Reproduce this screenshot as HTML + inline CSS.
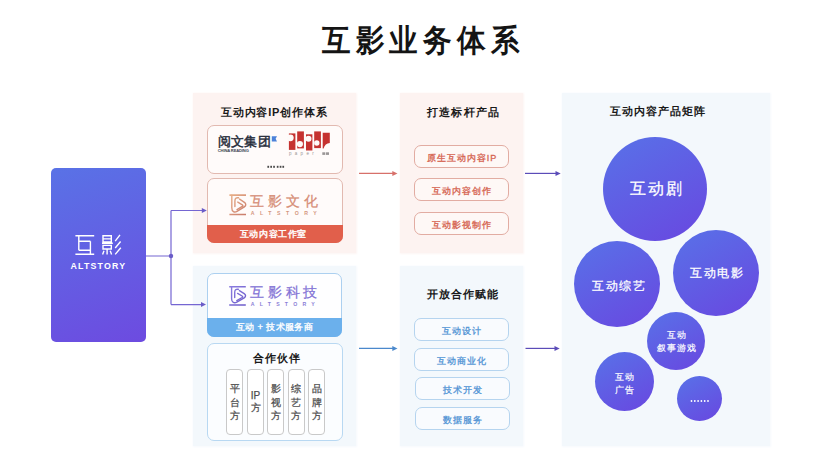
<!DOCTYPE html>
<html><head><meta charset="utf-8">
<style>
*{margin:0;padding:0;box-sizing:border-box}
html,body{width:830px;height:476px;overflow:hidden;background:#fff}
body{position:relative;font-family:"Liberation Sans",sans-serif;color:#222}
.a{position:absolute}
.t{white-space:nowrap;line-height:1}
#title{left:321.5px;top:25px;font-size:31px;font-weight:700;letter-spacing:5.65px;color:#141414;transform:scaleX(0.92);transform-origin:0 0}
#lbox{left:51.4px;top:168.3px;width:94.4px;height:174px;border-radius:5px;background:linear-gradient(160deg,#5972e6 0%,#6d4be0 100%)}
.pink{background:#fdf3f1;box-shadow:0 0 2px 0.5px #fdf5f3}
.blue{background:#f3f8fc;box-shadow:0 0 2px 0.5px #f6f9fd}
.ptitle{font-size:11px;font-weight:700;color:#1a1a1a;letter-spacing:1.2px}
.card{border-radius:7px;overflow:hidden}
.pill{border-radius:7px;text-align:center;font-size:9px;font-weight:400;-webkit-text-stroke:0.3px currentColor;line-height:25px;letter-spacing:1px;padding-left:1px}
.rp{border:1px solid #e2aca2;background:#fef8f6;color:#d5624f}
.bp{border:1px solid #b5d4ef;background:#f9fbfe;color:#5294d5}
.circ{border-radius:50%;background:linear-gradient(150deg,#5872e8 0%,#6947e0 100%);color:#fff;text-align:center;display:flex;align-items:center;justify-content:center;font-weight:400;-webkit-text-stroke:0.25px #fff}
.vp{border:1px solid #c9c9c9;border-radius:4px;background:#fff;width:17px;height:66px;top:369px;font-size:10px;font-weight:400;color:#4d4d4d;-webkit-text-stroke:0.25px #4d4d4d;text-align:center;line-height:13.5px}
</style></head><body>
<div id="title" class="a t">互影业务体系</div>

<div id="lbox" class="a"></div>

<div class="a pink" style="left:193px;top:93px;width:163px;height:160px"></div>
<div class="a blue" style="left:193px;top:266px;width:163px;height:180px"></div>
<div class="a pink" style="left:400px;top:93px;width:123px;height:160px"></div>
<div class="a blue" style="left:400px;top:266px;width:123px;height:180px"></div>
<div class="a blue" style="left:562px;top:93px;width:207.5px;height:353px"></div>

<div class="a t ptitle" style="left:221px;top:106.5px;letter-spacing:0.8px">互动内容IP创作体系</div>
<div class="a t ptitle" style="left:427px;top:106.5px">打造标杆产品</div>
<div class="a t ptitle" style="left:427px;top:289px;letter-spacing:1px">开放合作赋能</div>
<div class="a t ptitle" style="left:610px;top:106px;letter-spacing:1px">互动内容产品矩阵</div>

<!-- cards -->
<div class="a card" style="left:207px;top:125.3px;width:135.5px;height:49.2px;border:1px solid #e2b9b0;background:#fffbfa"></div>
<div class="a card" style="left:207px;top:178px;width:136px;height:65px;border:1px solid #e2b9b0;background:#fffbfa"></div>
<div class="a" style="left:207px;top:225.3px;width:136px;height:17.7px;background:#e15f4b;border-radius:0 0 7px 7px"></div>
<div class="a card" style="left:207px;top:272.5px;width:135px;height:64px;border:1px solid #acd0f0;background:#fefeff"></div>
<div class="a" style="left:207px;top:318px;width:135px;height:18.5px;background:#6bb0ec;border-radius:0 0 7px 7px"></div>
<div class="a card" style="left:207px;top:343px;width:136px;height:98px;border:1px solid #b8d8f2;background:#fbfdff"></div>

<!-- middle pills -->
<div class="a pill rp" style="left:414px;top:144.5px;width:95px;height:23px;line-height:24px">原生互动内容IP</div>
<div class="a pill rp" style="left:414px;top:178px;width:95px;height:23px">互动内容创作</div>
<div class="a pill rp" style="left:414px;top:212px;width:95px;height:23px">互动影视制作</div>
<div class="a pill bp" style="left:414px;top:318px;width:95px;height:23px">互动设计</div>
<div class="a pill bp" style="left:414px;top:348px;width:95px;height:23px">互动商业化</div>
<div class="a pill bp" style="left:415px;top:377px;width:95px;height:23px">技术开发</div>
<div class="a pill bp" style="left:415px;top:407px;width:95px;height:23px">数据服务</div>

<!-- circles -->
<div class="a circ" style="left:603px;top:137px;width:104px;height:104px;font-size:15.5px"><span style="position:relative;top:0.6px;left:2.2px;letter-spacing:2.2px">互动剧</span></div>
<div class="a circ" style="left:574px;top:241px;width:86px;height:86px;font-size:12px"><span style="position:relative;top:2px;left:2.3px;letter-spacing:1.7px">互动综艺</span></div>
<div class="a circ" style="left:673px;top:230px;width:86px;height:86px;font-size:12px"><span style="position:relative;top:0px;left:1.3px;letter-spacing:1.7px">互动电影</span></div>
<div class="a circ" style="left:647px;top:312px;width:58px;height:58px;font-size:9px;line-height:13.5px;-webkit-text-stroke:0.2px #fff"><span style="position:relative;top:1.3px;left:0.5px;letter-spacing:1px">互动<br>叙事游戏</span></div>
<div class="a circ" style="left:595px;top:352px;width:59px;height:59px;font-size:9px;line-height:13px;-webkit-text-stroke:0.2px #fff"><span style="position:relative;top:2px;left:0.5px;letter-spacing:1px">互动<br>广告</span></div>
<div class="a circ" style="left:677px;top:376px;width:45px;height:45px"><svg width="20" height="4" style="position:relative;top:2px;left:0.5px"><g fill="#fff"><circle cx="1.5" cy="2" r="0.9"/><circle cx="4.8" cy="2" r="0.9"/><circle cx="8.1" cy="2" r="0.9"/><circle cx="11.4" cy="2" r="0.9"/><circle cx="14.7" cy="2" r="0.9"/><circle cx="18" cy="2" r="0.9"/></g></svg></div>

<!-- left box text -->
<svg class="a" style="left:0;top:0" width="830" height="476" viewBox="0 0 830 476"><g fill="none" stroke="#fff" stroke-width="1.4" stroke-linecap="butt">
<path d="M75.4 235.8 H94.2 M75.4 254.3 H94.2 M78.8 235.8 V250.3 M78.8 241.2 H90.4 M78.8 250.3 H90.4 M90.4 241.2 V254.3"/>
<path d="M103 235.7 H111.3 V242 H103 Z M103 238.9 H111.3 M102 243.3 H112.8 M103 245.4 H111.3 V249 H103 Z M107.1 249 V254.5 M104 250.8 L102.6 254.5 M110.2 250.8 L111.6 254.5"/>
<path d="M115.2 241.2 L120 234.8 M115.2 248 L120.6 241.5 M115.2 254.4 L120.8 247.8"/>
</g></svg>
<div class="a t" style="left:70.5px;top:262px;font-size:8.8px;font-weight:700;color:#fff;letter-spacing:1.2px">ALTSTORY</div>

<!-- partners -->
<div class="a t" style="left:253px;top:353px;font-size:11px;font-weight:700;color:#1a1a1a;letter-spacing:1px">合作伙伴</div>
<div class="a vp" style="left:226px;padding-top:12.4px">平<br>台<br>方</div>
<div class="a vp" style="left:247px;padding-top:19.5px;line-height:12.5px">IP<br>方</div>
<div class="a vp" style="left:267px;padding-top:12.4px">影<br>视<br>方</div>
<div class="a vp" style="left:287.5px;padding-top:12.4px">综<br>艺<br>方</div>
<div class="a vp" style="left:308.3px;padding-top:12.4px">品<br>牌<br>方</div>

<!-- card texts -->
<div class="a t" style="left:239.8px;top:230.2px;font-size:9.2px;font-weight:400;color:#fff;-webkit-text-stroke:0.4px #fff;letter-spacing:0.6px">互动内容工作室</div>
<div class="a t" style="left:235.8px;top:322.8px;font-size:9.2px;font-weight:400;color:#fff;-webkit-text-stroke:0.35px #fff;letter-spacing:0.4px">互动 + 技术服务商</div>


<!-- yuewen logo -->
<div class="a t" style="left:217.5px;top:135.3px;font-size:13px;font-weight:400;color:#262c3a;-webkit-text-stroke:0.45px #262c3a;letter-spacing:0.4px">阅文集团</div>
<svg class="a" style="left:271px;top:136px" width="7" height="6" viewBox="0 0 7 6"><path d="M0.8 0.3 H6 L4.6 2.8 L6 5.4 H0.8 Z" fill="#4c82d9"/></svg>
<div class="a t" style="left:217.8px;top:148.6px;font-size:4.1px;font-weight:700;color:#3e4450;letter-spacing:-0.15px">CHINA READING</div>

<!-- paper logo -->
<svg class="a" style="left:0;top:0" width="830" height="476" viewBox="0 0 830 476">
<g fill="#c53230">
<rect x="288.9" y="133.4" width="6.5" height="16.5"/>
<rect x="297.2" y="131.4" width="6.7" height="17"/>
<rect x="306" y="134.3" width="6.4" height="16.2"/>
<rect x="314.2" y="131.4" width="6.7" height="16.7"/>
<path d="M322.7 132.8 H329.8 V143 Q325 143.5 323.6 148.4 H322.7 Z"/>
</g>
<g fill="#fefaf9">
<circle cx="290.3" cy="137.8" r="3.4"/>
<circle cx="299.9" cy="144.1" r="3.1"/>
<circle cx="308.5" cy="138.7" r="3"/>
<circle cx="316.8" cy="143" r="2.7"/>
</g>
<g fill="#9a9696">
<text x="289" y="155" font-size="4.5" font-family="Liberation Sans" letter-spacing="3.3">paper</text>
<rect x="322.3" y="152.3" width="3" height="2.6"/><rect x="326" y="152.3" width="3" height="2.6"/>
</g>
<g fill="#4a4a4a"><rect x="267.4" y="165.8" width="1.7" height="2"/><rect x="270.3" y="165.8" width="1.7" height="2"/><rect x="273.2" y="165.8" width="1.7" height="2"/><rect x="276.8" y="165.8" width="1.7" height="2"/><rect x="279.7" y="165.8" width="1.7" height="2"/><rect x="282.4" y="165.8" width="1.7" height="2"/></g>
</svg>

<!-- altstory logos -->
<svg class="a" style="left:0;top:0" width="830" height="476" viewBox="0 0 830 476">
<defs>
<linearGradient id="go" gradientUnits="userSpaceOnUse" x1="229" y1="287" x2="246" y2="305"><stop offset="0" stop-color="#e9b088"/><stop offset="1" stop-color="#c97c6c"/></linearGradient>
<linearGradient id="gp" gradientUnits="userSpaceOnUse" x1="229" y1="287" x2="246" y2="305"><stop offset="0" stop-color="#8b7de0"/><stop offset="1" stop-color="#6b5bc9"/></linearGradient>
<g id="ic" fill="none" stroke-width="1.4" stroke-linecap="round">
<path d="M229.2 286.8 H245.8 M229.2 305.1 H245.8" stroke-width="1.5" stroke-linecap="butt"/>
<path d="M231.6 287 V298.8 C231.6 302.6 234.3 303.6 236.8 302.2 L244.2 297.8 C246 296.7 246 294.9 244.2 293.7 L239.4 290.6"/>
<path d="M238.3 289.3 C235.9 288.8 234.7 290.1 234.7 292.4 V297.6"/>
<path d="M237.6 293.4 L242.1 296 C242.9 296.5 242.9 297 242.1 297.5 L236.8 300.6"/>
</g>
</defs>
<use href="#ic" stroke="url(#go)" transform="translate(0.2 195.1) scale(1 1.06) translate(0 -286.8)"/>
<use href="#ic" stroke="url(#gp)"/>
</svg>
<div class="a t" style="left:250.4px;top:195.4px;font-size:13.6px;font-weight:400;letter-spacing:3.9px;color:#d68d76;-webkit-text-stroke:0.25px #d68d76">互影文化</div>
<div class="a t" style="left:250.7px;top:210.8px;font-size:5.2px;font-weight:700;letter-spacing:5.55px;color:#d4967f">ALTSTORY</div>
<div class="a t" style="left:250.4px;top:285.8px;font-size:13.6px;font-weight:400;letter-spacing:3.7px;color:#8474d6;-webkit-text-stroke:0.25px #8474d6">互影科技</div>
<div class="a t" style="left:250.7px;top:301.5px;font-size:5.2px;font-weight:700;letter-spacing:5.25px;color:#8a7dd6">ALTSTORY</div>
<!-- connectors -->
<svg class="a" style="left:0;top:0" width="830" height="476" viewBox="0 0 830 476">
  <g fill="none" stroke="#7566d2" stroke-width="1.2">
    <path d="M146 256 H171 M171 210.5 V304.6 M171 210.5 H202 M171 304.6 H201"/>
  </g>
  <circle cx="171" cy="256" r="2.2" fill="#6a5cc8"/>
  <path d="M201.8 208 L206.8 210.5 L201.8 213 Z" fill="#6a5cc8"/>
  <path d="M201 302.1 L206 304.6 L201 307.1 Z" fill="#6a5cc8"/>
  <path d="M359 173.4 H393" stroke="#d7706a" stroke-width="1.2"/>
  <path d="M392.3 170.9 L397.5 173.4 L392.3 175.9 Z" fill="#d7706a"/>
  <path d="M359 348.4 H393" stroke="#4a88cc" stroke-width="1.2"/>
  <path d="M392.3 345.9 L397.5 348.4 L392.3 350.9 Z" fill="#4a88cc"/>
  <path d="M525 173.4 H556" stroke="#5b4cb8" stroke-width="1.2"/>
  <path d="M555.5 170.9 L560.7 173.4 L555.5 175.9 Z" fill="#5b4cb8"/>
  <path d="M525.5 348.4 H555" stroke="#5b4cb8" stroke-width="1.2"/>
  <path d="M554.5 345.9 L559.7 348.4 L554.5 350.9 Z" fill="#5b4cb8"/>
</svg>
</body></html>
